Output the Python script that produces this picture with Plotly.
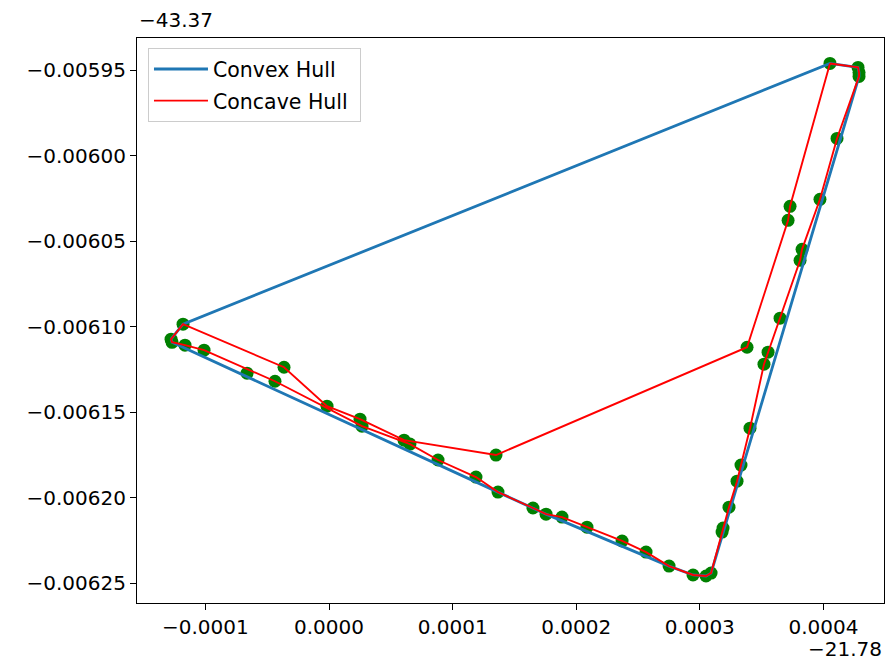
import plotly.graph_objects as go

X_OFFSET = -21.78
Y_OFFSET = -43.37

# point coordinates, stored relative to the axis offsets (in units of 1e-4 for x, 1e-5 for y)
x_rel = [4.053, 4.280, 4.288, 4.288, 4.110, 3.972, 3.730, 3.714, 3.827, 3.811,
         3.649, 3.382, 3.552, 3.519, 3.406, 3.333, 3.301, 3.236, 3.188, 3.180,
         3.091, 3.050, 2.945, 2.751, 2.565, 2.371, 2.087, 1.885, 1.756, 1.650,
         1.367, 1.189, 1.351, 0.882, 0.655, 0.607, 0.267, 0.251, -0.016, -0.364,
         -0.437, -0.663, -1.011, -1.165, -1.181, -1.278, -1.270]
y_rel = [-594.59, -594.82, -595.12, -595.35, -598.98, -602.54, -602.95, -603.77, -605.47, -606.11,
         -609.50, -611.20, -611.49, -612.19, -615.94, -618.10, -619.04, -620.56, -621.78, -622.02,
         -624.42, -624.59, -624.53, -624.01, -623.19, -622.54, -621.73, -621.14, -620.97, -620.61,
         -619.68, -618.80, -617.51, -617.80, -616.87, -616.64, -615.82, -615.41, -614.65, -612.37,
         -613.19, -612.72, -611.37, -611.08, -609.85, -610.73, -610.91]

# concave hull vertex order (indices into the point lists)
concave_order = [0, 6, 7, 11, 32, 35, 37, 38, 39, 44, 45, 46, 43, 42, 40, 36, 34, 33,
                 31, 30, 29, 28, 27, 26, 25, 24, 23, 22, 21, 20, 19, 18, 17, 16, 15,
                 14, 13, 12, 10, 9, 8, 5, 4, 3, 2, 1, 0]

x_ticks = [-0.0001, 0.0000, 0.0001, 0.0002, 0.0003, 0.0004]
x_tick_text = ["\u22120.0001", "0.0000", "0.0001", "0.0002", "0.0003", "0.0004"]
y_ticks = [-0.00595, -0.00600, -0.00605, -0.00610, -0.00615, -0.00620, -0.00625]
y_tick_text = ["\u22120.00595", "\u22120.00600", "\u22120.00605", "\u22120.00610",
               "\u22120.00615", "\u22120.00620", "\u22120.00625"]

xs = [X_OFFSET + v * 1e-4 for v in x_rel]
ys = [Y_OFFSET + v * 1e-5 for v in y_rel]
dx = [x - X_OFFSET for x in xs]
dy = [y - Y_OFFSET for y in ys]


def convex_hull(pts):
    pts = sorted(set(pts))
    def cross(o, a, b):
        return (a[0] - o[0]) * (b[1] - o[1]) - (a[1] - o[1]) * (b[0] - o[0])
    lower, upper = [], []
    for p in pts:
        while len(lower) >= 2 and cross(lower[-2], lower[-1], p) <= 0:
            lower.pop()
        lower.append(p)
    for p in reversed(pts):
        while len(upper) >= 2 and cross(upper[-2], upper[-1], p) <= 0:
            upper.pop()
        upper.append(p)
    hull = lower[:-1] + upper[:-1]
    return hull + [hull[0]]


hull = convex_hull(list(zip(dx, dy)))

fig = go.Figure()
fig.add_trace(go.Scatter(x=dx, y=dy, mode="markers", showlegend=False,
                         marker=dict(color="green", size=13, line=dict(width=0))))
fig.add_trace(go.Scatter(x=[p[0] for p in hull], y=[p[1] for p in hull], mode="lines",
                         name="Convex Hull  ", legendgroup="a",
                         line=dict(color="#1f77b4", width=2.8)))
fig.add_trace(go.Scatter(x=[dx[i] for i in concave_order], y=[dy[i] for i in concave_order],
                         mode="lines", name="Concave Hull ", legendgroup="b",
                         line=dict(color="red", width=1.9)))

font = dict(family="DejaVu Sans", size=20, color="black")
fig.update_layout(
    width=885, height=664,
    margin=dict(l=137, r=1, t=38, b=61),
    paper_bgcolor="white", plot_bgcolor="white",
    font=font,
    legend=dict(x=0.0147, y=0.982, xanchor="left", yanchor="top",
                traceorder="grouped", tracegroupgap=2, itemwidth=54,
                bordercolor="#cccccc", borderwidth=1, bgcolor="rgba(255,255,255,0.8)",
                font=dict(family="DejaVu Sans", size=20.5, color="black")),
    xaxis=dict(range=[-1.5534e-4, 4.490e-4], tickvals=x_ticks, ticktext=x_tick_text,
               showgrid=False, zeroline=False, showline=True, mirror=True,
               linecolor="black", linewidth=1.2, ticks="outside", ticklen=6,
               tickcolor="black", tickfont=font),
    yaxis=dict(range=[-0.0062617, -0.005931], tickvals=y_ticks, ticktext=y_tick_text,
               showgrid=False, zeroline=False, showline=True, mirror=True,
               linecolor="black", linewidth=1.2, ticks="outside", ticklen=6,
               tickcolor="black", tickfont=font),
    annotations=[
        dict(text="\u221243.37", xref="paper", yref="paper", x=0, y=1, xanchor="left",
             yanchor="bottom", yshift=4, showarrow=False, font=font),
        dict(text="\u221221.78", xref="paper", yref="paper", x=1, y=0, xanchor="right",
             yanchor="top", yshift=-32, showarrow=False, font=font),
    ],
)
# remove the default page margin so the 885x664 figure fills the window exactly
fig.write_html("out.html", config={"displayModeBar": False},
               post_script="document.body.style.margin='0';")
